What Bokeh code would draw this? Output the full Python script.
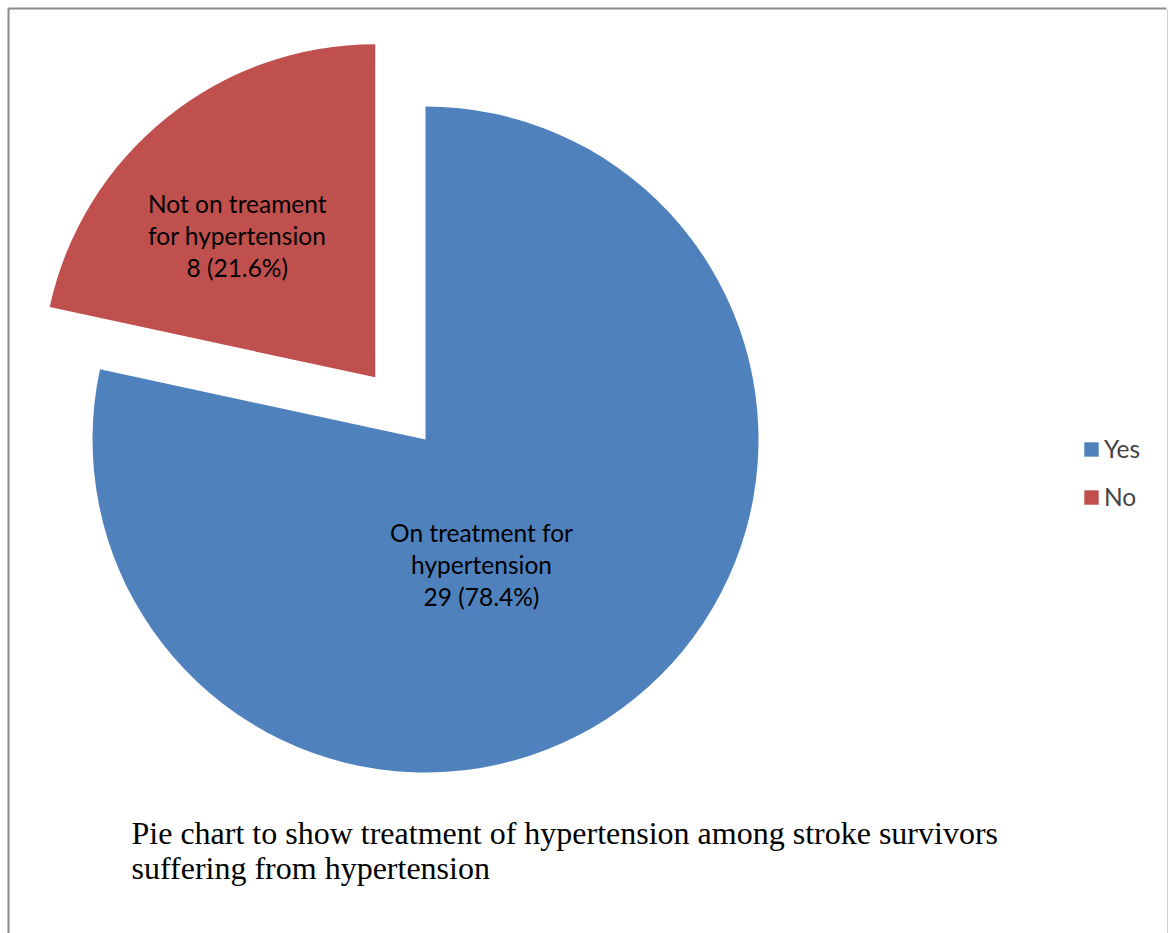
import math
from bokeh.plotting import figure
from bokeh.models import ColumnDataSource, Legend, LegendItem
from bokeh.core.properties import value
from bokeh.embed import file_html
from bokeh.resources import INLINE

# ---- data ----
categories = ["Yes", "No"]
counts = [29, 8]
percents = [78.4, 21.6]
slice_labels = ["On treatment for\nhypertension", "Not on treament\nfor hypertension"]
colors = ["#4F81BD", "#C0504D"]
caption_lines = [
    "Pie chart to show treatment of hypertension among stroke survivors",
    "suffering from hypertension",
]

W, H = 1168, 933
p = figure(width=W, height=H, x_range=(0, W), y_range=(0, H),
           output_backend="svg", toolbar_location=None, min_border=0)
p.axis.visible = False
p.grid.visible = False
p.outline_line_color = None
p.background_fill_color = "white"

cx, cy = 425, H - 439
R = 333
explode = [0, 80]
label_off = [(56, -125), (-138, 142)]

total = sum(counts)
start = math.pi / 2
xs, ys, sa, ea, lx, ly, txt = [], [], [], [], [], [], []
# slices go clockwise from 12 o'clock
ang = start
for i, c in enumerate(counts):
    sweep = 2 * math.pi * c / total
    a1 = ang - sweep
    a0 = ang
    mid = (a0 + a1) / 2
    x = cx + explode[i] * math.cos(mid)
    y = cy + explode[i] * math.sin(mid)
    xs.append(x); ys.append(y)
    sa.append(a1); ea.append(a0)
    lx.append(x + label_off[i][0]); ly.append(y + label_off[i][1])
    txt.append(f"{slice_labels[i]}\n{c} ({percents[i]}%)")
    ang = a1

src = ColumnDataSource(dict(x=xs, y=ys, sa=sa, ea=ea, color=colors,
                            cat=categories, lx=lx, ly=ly, txt=txt))
r = p.wedge(x="x", y="y", radius=R, start_angle="sa", end_angle="ea",
            direction="anticlock", fill_color="color", line_color=None, source=src)

p.text(x="lx", y="ly", text="txt", source=src, text_align="center",
       text_baseline="middle", text_font=value("Lato"), text_font_size="24.5px",
       text_line_height=1.1, text_color="black")

# caption
for k, line in enumerate(caption_lines):
    p.text(x=[131], y=[H - 832 - 35 * k], text=[line], text_align="left",
           text_baseline="alphabetic", text_font=value("Liberation Serif"),
           text_font_size="32px", text_color="black")

# border lines
p.segment(x0=[8, 8, 1167], y0=[H - 8, H - 8, H - 9], x1=[1166, 8, 1167], y1=[H - 8, 0, 0],
          line_color=["#8a8a8a", "#8a8a8a", "#d0d0d0"], line_width=[2, 2, 1])

legend = Legend(items=[LegendItem(label=categories[i], renderers=[r], index=i) for i in range(2)],
                location=(1082, 422), orientation="vertical", padding=0, margin=0,
                spacing=19, glyph_width=18, glyph_height=18, label_height=24,
                label_standoff=4, label_text_font="Lato", label_text_font_size="24.5px",
                border_line_color=None, background_fill_alpha=0)
p.add_layout(legend, "center")

open("out.html", "w").write(file_html(p, INLINE))
